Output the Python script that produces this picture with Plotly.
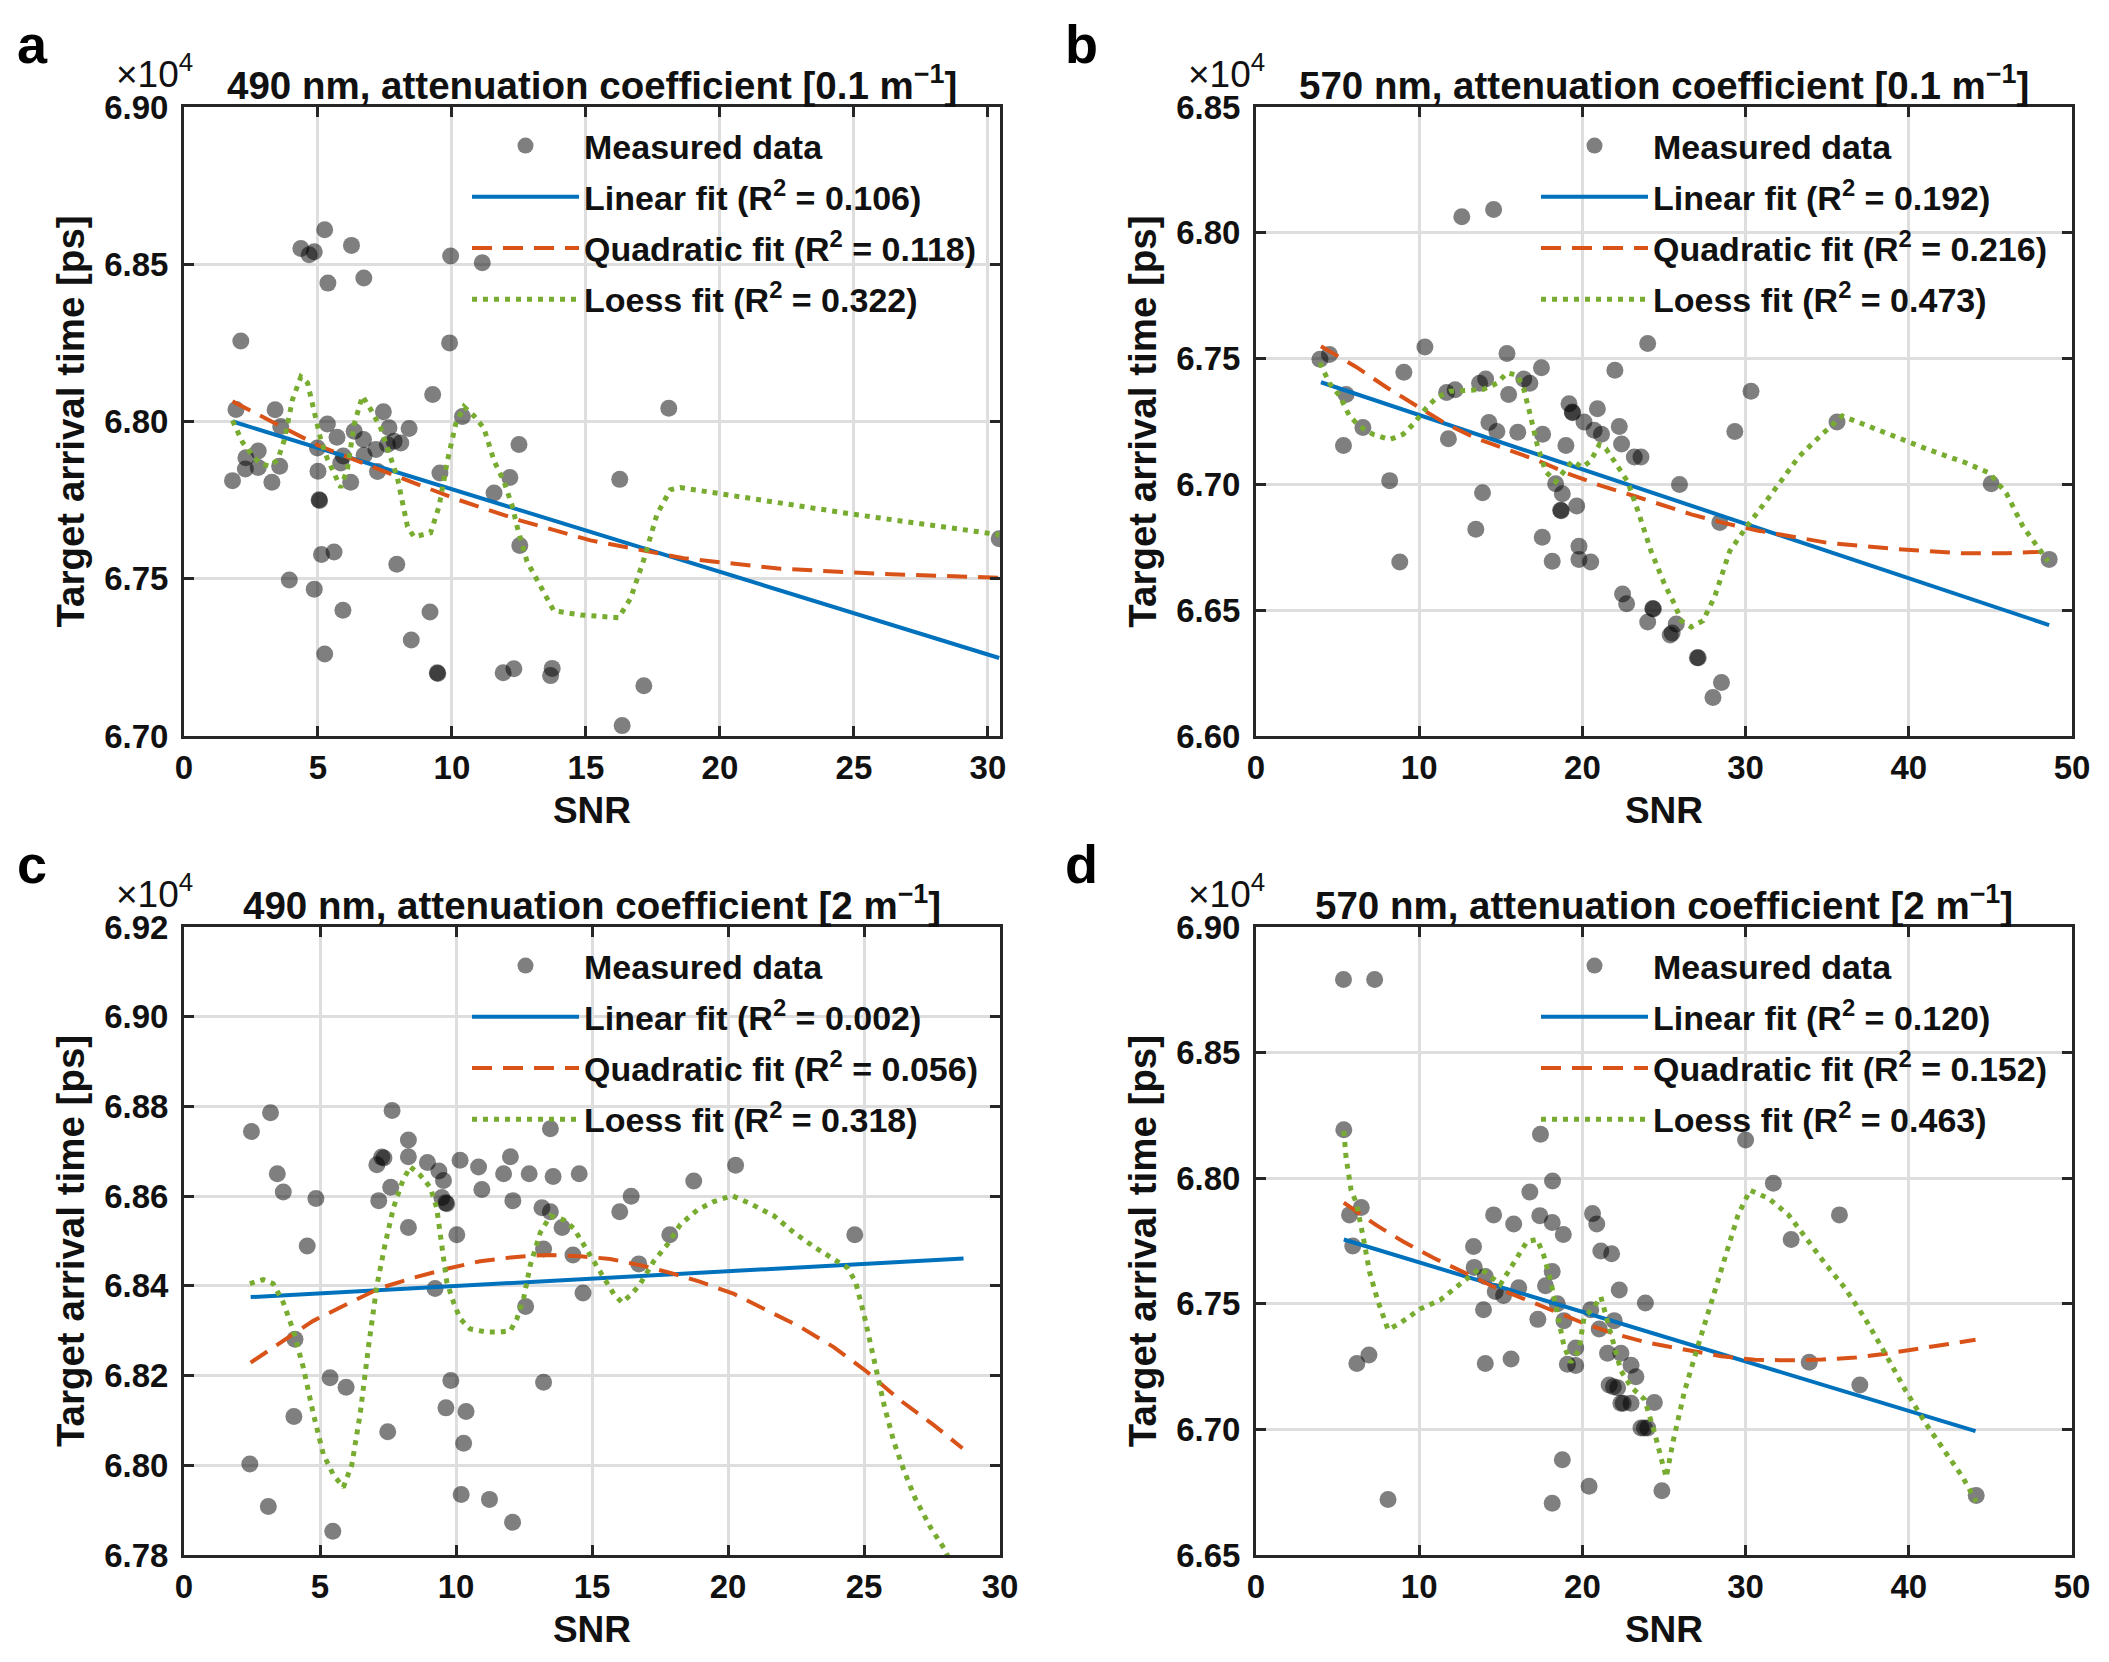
import plotly.graph_objects as go

# ---------------- data ----------------
# Panel a: 490 nm, 0.1 m^-1
a_snr = [2.12, 5.25, 4.36, 4.67, 4.86, 6.25, 5.37, 6.71, 9.95, 11.13, 9.91, 9.28, 1.94, 3.40, 5.35, 7.44,
         5.71, 3.61, 6.35, 6.70, 7.65, 8.40, 7.84, 8.09, 7.59, 7.16, 6.72, 4.98, 5.94, 2.77, 2.31, 2.29,
         2.77, 3.57, 1.81, 3.28, 5.00, 5.85, 6.22, 7.22, 9.55, 10.39, 12.50, 12.16, 11.57, 12.53, 5.04,
         5.13, 5.60, 7.94, 3.93, 4.86, 5.93, 9.18, 8.48, 5.25, 9.45, 11.91, 12.31, 13.74, 13.68, 18.09,
         16.26, 30.42, 17.16, 16.35, 5.06, 9.47]
a_time = [6.8256, 6.8610, 6.8550, 6.8530, 6.8540, 6.8560, 6.8440, 6.8456, 6.8526, 6.8505, 6.8250, 6.8086,
          6.8038, 6.8037, 6.7992, 6.8031, 6.7950, 6.7984, 6.7969, 6.7943, 6.7980, 6.7978, 6.7937, 6.7932,
          6.7927, 6.7911, 6.7893, 6.7916, 6.7890, 6.7906, 6.7885, 6.7849, 6.7854, 6.7858, 6.7812, 6.7807,
          6.7842, 6.7868, 6.7807, 6.7841, 6.7836, 6.8016, 6.7927, 6.7822, 6.7773, 6.7606, 6.7751, 6.7577,
          6.7585, 6.7546, 6.7496, 6.7467, 6.7400, 6.7394, 6.7305, 6.7261, 6.7201, 6.7201, 6.7214, 6.7215,
          6.7192, 6.8042, 6.7816, 6.7627, 6.7160, 6.7033, 6.7749, 6.7199]
a_lin_x = [1.81, 30.42]
a_lin_y = [6.8000, 6.7248]
a_quad_x = [1.81, 4.98, 7.84, 10.20, 12.56, 15.17, 18.65, 22.25, 26.10, 30.42]
a_quad_y = [6.8064, 6.7925, 6.7829, 6.7752, 6.7685, 6.7622, 6.7565, 6.7532, 6.7515, 6.7503]
a_loess_x = [1.81, 2.19, 2.50, 2.81, 3.18, 3.49, 3.74, 4.05, 4.36, 4.61, 4.86, 5.11, 5.35, 5.66, 5.85,
             6.10, 6.35, 6.66, 6.97, 7.34, 7.65, 7.96, 8.34, 8.58, 9.20, 9.52, 9.83, 10.14, 10.45, 10.82,
             11.19, 11.57, 11.94, 12.25, 12.43, 12.80, 13.30, 13.80, 14.80, 15.70, 16.22, 16.66, 17.16,
             17.65, 18.15, 18.52, 24.98, 30.42]
a_loess_y = [6.8003, 6.7933, 6.7898, 6.7868, 6.7858, 6.7877, 6.7940, 6.8070, 6.8142, 6.8123, 6.8031,
             6.7940, 6.7881, 6.7822, 6.7790, 6.7849, 6.7992, 6.8081, 6.8038, 6.7979, 6.7900, 6.7822,
             6.7666, 6.7633, 6.7646, 6.7731, 6.7875, 6.7992, 6.8047, 6.8018, 6.7979, 6.7875, 6.7809,
             6.7731, 6.7666, 6.7555, 6.7477, 6.7398, 6.7385, 6.7381, 6.7376, 6.7437, 6.7561, 6.7705,
             6.7783, 6.7790, 6.7705, 6.7640]

# Panel b: 570 nm, 0.1 m^-1
b_snr = [12.61, 14.56, 3.92, 4.50, 10.35, 15.38, 17.49, 24.00, 21.99, 9.06, 5.52, 6.55, 5.36, 8.19, 8.81,
         11.68, 12.20, 13.70, 14.07, 15.48, 16.41, 16.78, 11.79, 14.27, 14.76, 16.04, 17.56, 18.99, 19.18,
         19.38, 20.10, 20.92, 20.72, 21.17, 22.26, 22.40, 23.18, 23.59, 18.36, 18.77, 18.67, 19.65, 13.88,
         13.47, 17.54, 19.79, 18.15, 19.79, 20.51, 22.46, 22.71, 24.31, 24.00, 25.38, 25.75, 25.95, 29.34,
         30.33, 28.42, 35.60, 45.05, 48.60, 25.50, 27.04, 28.52, 28.00, 19.40, 18.70, 24.35, 27.10]
b_time = [6.8064, 6.8093, 6.7497, 6.7516, 6.7546, 6.7520, 6.7464, 6.7560, 6.7454, 6.7446, 6.7357, 6.7226,
          6.7155, 6.7015, 6.6692, 6.7365, 6.7376, 6.7402, 6.7419, 6.7357, 6.7419, 6.7402, 6.7181, 6.7246,
          6.7210, 6.7207, 6.7199, 6.7155, 6.7321, 6.7288, 6.7248, 6.7301, 6.7215, 6.7199, 6.7230, 6.7161,
          6.7109, 6.7109, 6.7003, 6.6963, 6.6897, 6.6914, 6.6967, 6.6822, 6.6790, 6.6754, 6.6695, 6.6702,
          6.6692, 6.6564, 6.6526, 6.6507, 6.6453, 6.6401, 6.6445, 6.7000, 6.7210, 6.7370, 6.6849, 6.7248,
          6.7003, 6.6702, 6.6409, 6.6311, 6.6213, 6.6153, 6.7285, 6.6895, 6.6505, 6.6311]
b_lin_x = [3.98, 48.60]
b_lin_y = [6.7406, 6.6441]
b_quad_x = [3.98, 6.14, 7.99, 9.84, 11.69, 13.53, 15.17, 17.23, 19.08, 21.13, 23.18, 25.03, 26.67, 28.52,
            30.78, 35.09, 39.20, 43.30, 45.97, 48.60]
b_quad_y = [6.7549, 6.7467, 6.7386, 6.7313, 6.7239, 6.7182, 6.7142, 6.7096, 6.7044, 6.6995, 6.6954, 6.6914,
            6.6881, 6.6849, 6.6816, 6.6767, 6.6743, 6.6726, 6.6726, 6.6734]
b_loess_x = [3.92, 4.50, 5.11, 5.73, 6.35, 7.17, 8.19, 9.01, 9.63, 10.45, 11.07, 11.89, 12.91, 13.94, 14.76,
             15.38, 15.99, 16.41, 16.82, 17.23, 17.74, 18.36, 18.87, 19.38, 20.00, 20.51, 21.03, 21.44, 21.95,
             22.77, 23.39, 24.21, 25.03, 25.65, 26.06, 26.67, 27.39, 28.11, 29.03, 30.06, 31.60, 33.25, 34.68,
             35.92, 38.18, 41.05, 43.52, 44.96, 45.99, 47.00, 48.54]
b_loess_y = [6.7484, 6.7402, 6.7353, 6.7272, 6.7231, 6.7199, 6.7178, 6.7199, 6.7239, 6.7305, 6.7345, 6.7370,
             6.7373, 6.7378, 6.7402, 6.7443, 6.7435, 6.7378, 6.7272, 6.7158, 6.7052, 6.7011, 6.7052, 6.7093,
             6.7068, 6.7093, 6.7158, 6.7142, 6.7093, 6.7011, 6.6897, 6.6734, 6.6604, 6.6523, 6.6458, 6.6433,
             6.6458, 6.6555, 6.6735, 6.6832, 6.6963, 6.7109, 6.7199, 6.7272, 6.7215, 6.7142, 6.7085, 6.7044,
             6.6963, 6.6832, 6.6694]

# Panel c: 490 nm, 2 m^-1
c_snr = [2.48, 3.18, 3.43, 3.65, 4.85, 4.53, 4.08, 5.37, 5.96, 4.04, 2.42, 3.10, 5.47, 7.65, 8.25, 7.27,
         7.09, 8.25, 7.60, 7.16, 8.25, 8.95, 9.37, 9.54, 9.48, 9.66, 10.15, 10.83, 10.95, 12.00, 11.75, 12.09,
         10.03, 9.23, 12.69, 13.47, 13.57, 14.53, 13.16, 13.47, 13.90, 13.22, 14.30, 12.56, 14.67, 9.81,
         13.22, 9.63, 10.37, 7.49, 10.28, 10.19, 11.23, 12.08, 16.44, 16.02, 18.74, 20.28, 17.86, 16.72,
         24.66, 7.35, 9.62]
c_time = [6.8744, 6.8786, 6.8650, 6.8609, 6.8595, 6.8489, 6.8281, 6.8195, 6.8174, 6.8109, 6.8003, 6.7908,
          6.7853, 6.8791, 6.8725, 6.8687, 6.8670, 6.8688, 6.8620, 6.8590, 6.8530, 6.8675, 6.8656, 6.8635,
          6.8597, 6.8583, 6.8680, 6.8665, 6.8615, 6.8688, 6.8650, 6.8590, 6.8514, 6.8394, 6.8650, 6.8750,
          6.8644, 6.8650, 6.8574, 6.8565, 6.8530, 6.8482, 6.8469, 6.8354, 6.8384, 6.8189, 6.8185, 6.8128,
          6.8120, 6.8075, 6.8049, 6.7935, 6.7924, 6.7873, 6.8600, 6.8565, 6.8634, 6.8669, 6.8514, 6.8449,
          6.8514, 6.8685, 6.8585]
c_lin_x = [2.45, 28.66]
c_lin_y = [6.8375, 6.8461]
c_quad_x = [2.45, 3.53, 4.75, 5.98, 7.21, 8.43, 9.66, 10.89, 12.12, 13.34, 14.57, 15.67, 16.78, 17.88, 18.99,
            20.22, 21.44, 22.67, 23.90, 25.12, 26.35, 27.58, 28.62]
c_quad_y = [6.8229, 6.8272, 6.8322, 6.8359, 6.8395, 6.8418, 6.8438, 6.8455, 6.8464, 6.8469, 6.8466, 6.8460,
            6.8446, 6.8429, 6.8409, 6.8382, 6.8345, 6.8308, 6.8263, 6.8208, 6.8144, 6.8089, 6.8038]
c_loess_x = [2.42, 2.91, 3.28, 3.65, 4.02, 4.39, 4.75, 5.12, 5.49, 5.86, 6.17, 6.48, 6.78, 7.09, 7.39, 7.70,
             8.01, 8.31, 8.68, 9.05, 9.29, 9.48, 9.66, 9.91, 10.15, 10.52, 11.13, 11.63, 12.00, 12.24, 12.49,
             12.73, 13.10, 13.47, 13.96, 14.33, 14.70, 15.18, 15.62, 15.80, 16.10, 16.47, 16.78, 17.27, 17.77,
             18.25, 18.87, 19.48, 20.15, 20.83, 21.69, 22.42, 23.16, 23.90, 24.38, 24.69, 25.00, 25.37, 25.74,
             26.10, 26.47, 26.90, 27.46, 27.95, 28.30]
c_loess_y = [6.8405, 6.8414, 6.8405, 6.8363, 6.8300, 6.8217, 6.8116, 6.8025, 6.7979, 6.7951, 6.8001, 6.8116,
             6.8263, 6.8400, 6.8492, 6.8574, 6.8629, 6.8666, 6.8647, 6.8620, 6.8574, 6.8492, 6.8409, 6.8363,
             6.8327, 6.8304, 6.8297, 6.8297, 6.8300, 6.8327, 6.8373, 6.8446, 6.8519, 6.8556, 6.8547, 6.8528,
             6.8492, 6.8446, 6.8400, 6.8382, 6.8363, 6.8382, 6.8405, 6.8455, 6.8492, 6.8537, 6.8569, 6.8588,
             6.8601, 6.8583, 6.8556, 6.8519, 6.8487, 6.8460, 6.8441, 6.8409, 6.8336, 6.8235, 6.8134, 6.8052,
             6.7988, 6.7924, 6.7860, 6.7814, 6.7770]

# Panel d: 570 nm, 2 m^-1
d_snr = [5.36, 7.27, 5.38, 5.73, 6.45, 5.93, 6.18, 6.92, 8.09, 17.43, 18.17, 16.78, 14.56, 15.79, 17.39,
         18.15, 18.83, 13.33, 13.37, 14.05, 16.10, 17.74, 18.15, 14.66, 15.17, 13.94, 17.27, 18.46, 18.87,
         14.05, 15.63, 19.59, 19.08, 19.59, 20.62, 20.88, 21.13, 21.79, 22.26, 23.86, 20.51, 21.03, 21.95,
         21.54, 22.36, 22.98, 23.28, 21.64, 22.16, 22.36, 22.98, 24.41, 23.59, 24.00, 18.77, 20.41, 18.15,
         24.87, 30.00, 31.70, 32.79, 35.75, 33.90, 37.00, 44.13, 21.90, 23.80, 22.50]
d_time = [6.8791, 6.8791, 6.8193, 6.7854, 6.7883, 6.7730, 6.7262, 6.7296, 6.6721, 6.8175, 6.7989, 6.7945,
          6.7854, 6.7818, 6.7851, 6.7824, 6.7776, 6.7728, 6.7645, 6.7609, 6.7564, 6.7572, 6.7629, 6.7549,
          6.7533, 6.7476, 6.7438, 6.7500, 6.7433, 6.7262, 6.7280, 6.7324, 6.7259, 6.7254, 6.7859, 6.7818,
          6.7710, 6.7699, 6.7555, 6.7503, 6.7476, 6.7400, 6.7433, 6.7303, 6.7303, 6.7255, 6.7210, 6.7177,
          6.7166, 6.7104, 6.7104, 6.7107, 6.7006, 6.7006, 6.6879, 6.6774, 6.6706, 6.6756, 6.8152, 6.7980,
          6.7756, 6.7854, 6.7267, 6.7177, 6.6737, 6.7170, 6.7006, 6.7104]
d_lin_x = [5.38, 44.09]
d_lin_y = [6.7756, 6.6993]
d_quad_x = [5.38, 7.37, 9.01, 10.86, 12.71, 14.56, 16.41, 18.25, 20.10, 21.95, 23.80, 25.65, 28.52, 30.57,
            32.62, 34.68, 36.73, 38.79, 41.05, 44.09]
d_quad_y = [6.7903, 6.7813, 6.7748, 6.7683, 6.7626, 6.7568, 6.7520, 6.7471, 6.7422, 6.7381, 6.7348, 6.7325,
            6.7291, 6.7277, 6.7275, 6.7278, 6.7286, 6.7303, 6.7325, 6.7357]
d_loess_x = [5.38, 5.52, 5.83, 6.14, 6.55, 6.96, 7.47, 8.09, 8.81, 10.04, 11.28, 12.51, 13.74, 14.97, 15.79,
             16.61, 17.23, 17.64, 18.05, 18.46, 18.87, 19.28, 19.79, 20.10, 20.72, 21.13, 21.54, 21.95, 22.36,
             22.98, 23.80, 24.41, 24.93, 25.14, 25.55, 26.26, 27.08, 27.90, 28.72, 29.54, 30.27, 31.40, 32.63,
             33.66, 34.90, 36.12, 37.35, 38.58, 39.82, 41.05, 42.28, 43.30, 44.13]
d_loess_y = [6.8188, 6.8082, 6.7952, 6.7903, 6.7772, 6.7626, 6.7511, 6.7397, 6.7422, 6.7479, 6.7515, 6.7577,
             6.7642, 6.7577, 6.7658, 6.7748, 6.7756, 6.7691, 6.7593, 6.7462, 6.7332, 6.7267, 6.7316, 6.7446,
             6.7487, 6.7528, 6.7438, 6.7332, 6.7234, 6.7169, 6.7120, 6.6990, 6.6859, 6.6810, 6.6950, 6.7153,
             6.7332, 6.7511, 6.7690, 6.7854, 6.7952, 6.7920, 6.7854, 6.7764, 6.7658, 6.7560, 6.7438, 6.7299,
             6.7153, 6.7022, 6.6908, 6.6810, 6.6712]

# axis settings / labels
a_xticks = [0, 5, 10, 15, 20, 25, 30]
c_xticks = [0, 5, 10, 15, 20, 25, 30]
bd_xticks = [0, 10, 20, 30, 40, 50]
a_yticks = [6.70, 6.75, 6.80, 6.85, 6.90]
b_yticks = [6.60, 6.65, 6.70, 6.75, 6.80, 6.85]
c_yticks = [6.78, 6.80, 6.82, 6.84, 6.86, 6.88, 6.90, 6.92]
d_yticks = [6.65, 6.70, 6.75, 6.80, 6.85, 6.90]

titles = ["490 nm, attenuation coefficient [0.1 m<sup>−1</sup>]",
          "570 nm, attenuation coefficient [0.1 m<sup>−1</sup>]",
          "490 nm, attenuation coefficient [2 m<sup>−1</sup>]",
          "570 nm, attenuation coefficient [2 m<sup>−1</sup>]"]
r2 = [("0.106", "0.118", "0.322"), ("0.192", "0.216", "0.473"),
      ("0.002", "0.056", "0.318"), ("0.120", "0.152", "0.463")]
letters = ["a", "b", "c", "d"]

# ---------------- styling / layout ----------------
W, H = 2109, 1662
FONT = "Liberation Sans, Arial, sans-serif"
TXT = "#111111"
AX = "#262626"
BLUE, ORANGE, GREEN = "#0072BD", "#D95319", "#77AC30"

xdom_l = [184 / W, 1000 / W]
xdom_r = [1256 / W, 2072 / W]
ydom_t = [1 - 736 / H, 1 - 107 / H]
ydom_b = [1 - 1555 / H, 1 - 927 / H]

panels = [
    dict(snr=a_snr, t=a_time, lin=(a_lin_x, a_lin_y), quad=(a_quad_x, a_quad_y), loe=(a_loess_x, a_loess_y),
         xr=[0, 30.45], xt=a_xticks, yr=[6.70, 6.90], yt=a_yticks, xd=xdom_l, yd=ydom_t),
    dict(snr=b_snr, t=b_time, lin=(b_lin_x, b_lin_y), quad=(b_quad_x, b_quad_y), loe=(b_loess_x, b_loess_y),
         xr=[0, 50], xt=bd_xticks, yr=[6.60, 6.85], yt=b_yticks, xd=xdom_r, yd=ydom_t),
    dict(snr=c_snr, t=c_time, lin=(c_lin_x, c_lin_y), quad=(c_quad_x, c_quad_y), loe=(c_loess_x, c_loess_y),
         xr=[0, 30], xt=c_xticks, yr=[6.78, 6.92], yt=c_yticks, xd=xdom_l, yd=ydom_b),
    dict(snr=d_snr, t=d_time, lin=(d_lin_x, d_lin_y), quad=(d_quad_x, d_quad_y), loe=(d_loess_x, d_loess_y),
         xr=[0, 50], xt=bd_xticks, yr=[6.65, 6.90], yt=d_yticks, xd=xdom_r, yd=ydom_b),
]

fig = go.Figure()
layout = dict(width=W, height=H, autosize=False, margin=dict(l=0, r=0, t=0, b=0, autoexpand=False),
              paper_bgcolor="white", plot_bgcolor="white",
              font=dict(family=FONT, color=TXT), annotations=[])

legend_text_x = [585, 1654, 585, 1654]
legend_top_y = [117, 117, 937, 937]
letter_x = [15, 1063, 15, 1063]

for i, p in enumerate(panels):
    n = "" if i == 0 else str(i + 1)
    xa, ya = "x" + n, "y" + n
    lg = "legend" + n
    r = r2[i]
    fig.add_trace(go.Scatter(x=p["snr"], y=p["t"], mode="markers", name="Measured data",
                             marker=dict(size=17, color="rgba(0,0,0,0.5)", line=dict(width=0)),
                             xaxis=xa, yaxis=ya, legend=lg, legendgroup=f"m{i}"))
    fig.add_trace(go.Scatter(x=p["lin"][0], y=p["lin"][1], mode="lines",
                             name=f"Linear fit (R<sup>2</sup> = {r[0]})",
                             line=dict(color=BLUE, width=4), xaxis=xa, yaxis=ya, legend=lg,
                             legendgroup=f"l{i}"))
    fig.add_trace(go.Scatter(x=p["quad"][0], y=p["quad"][1], mode="lines",
                             name=f"Quadratic fit (R<sup>2</sup> = {r[1]})",
                             line=dict(color=ORANGE, width=4, dash="20px,11px"), xaxis=xa, yaxis=ya,
                             legend=lg, legendgroup=f"q{i}"))
    fig.add_trace(go.Scatter(x=p["loe"][0], y=p["loe"][1], mode="lines",
                             name=f"Loess fit (R<sup>2</sup> = {r[2]})",
                             line=dict(color=GREEN, width=5, dash="5px,6px"), xaxis=xa, yaxis=ya,
                             legend=lg, legendgroup=f"s{i}"))

    axcommon = dict(showline=True, linecolor=AX, linewidth=3, mirror="allticks", ticks="inside",
                    ticklen=10, tickwidth=3, tickcolor=AX, showgrid=True, gridcolor="#dedede",
                    gridwidth=2.5, zeroline=False, automargin=False,
                    tickfont=dict(family=FONT, size=33, color=TXT, weight="bold"))
    layout["xaxis" + n] = dict(axcommon, domain=p["xd"], range=p["xr"], tickvals=p["xt"],
                               anchor=ya, title=dict(text="SNR", font=dict(family=FONT, size=37, color=TXT,
                                                                          weight="bold"), standoff=13))
    layout["yaxis" + n] = dict(axcommon, domain=p["yd"], range=p["yr"], tickvals=p["yt"],
                               tickformat=".2f", anchor=xa, ticklabelstandoff=6,
                               title=dict(text="Target arrival time [ps]",
                                          font=dict(family=FONT, size=38.5, color=TXT, weight="bold"),
                                          standoff=8))
    layout[lg] = dict(x=(legend_text_x[i] - 118) / W, y=1 - legend_top_y[i] / H, xanchor="left",
                      yanchor="top", bgcolor="rgba(0,0,0,0)", borderwidth=0, itemwidth=107,
                      traceorder="grouped", tracegroupgap=4,
                      font=dict(family=FONT, size=34, color=TXT, weight="bold"))
    xc = (p["xd"][0] + p["xd"][1]) / 2
    layout["annotations"].append(dict(text=titles[i], x=xc, y=p["yd"][1], xref="paper", yref="paper",
                                      xanchor="center", yanchor="bottom", showarrow=False, yshift=-2,
                                      font=dict(family=FONT, size=38.5, color=TXT, weight="bold")))
    layout["annotations"].append(dict(text="×10<sup>4</sup>", x=p["xd"][0] - 70 / W, y=p["yd"][1],
                                      xref="paper", yref="paper", xanchor="left", yanchor="bottom",
                                      showarrow=False, yshift=10,
                                      font=dict(family=FONT, size=37, color=TXT)))
    layout["annotations"].append(dict(text=letters[i], x=letter_x[i] / W, y=p["yd"][1],
                                      xref="paper", yref="paper", xanchor="left", yanchor="bottom",
                                      showarrow=False, yshift=31,
                                      font=dict(family=FONT, size=54, color="#000000", weight="bold")))

fig.update_layout(**layout)
fig.write_html("out.html")
